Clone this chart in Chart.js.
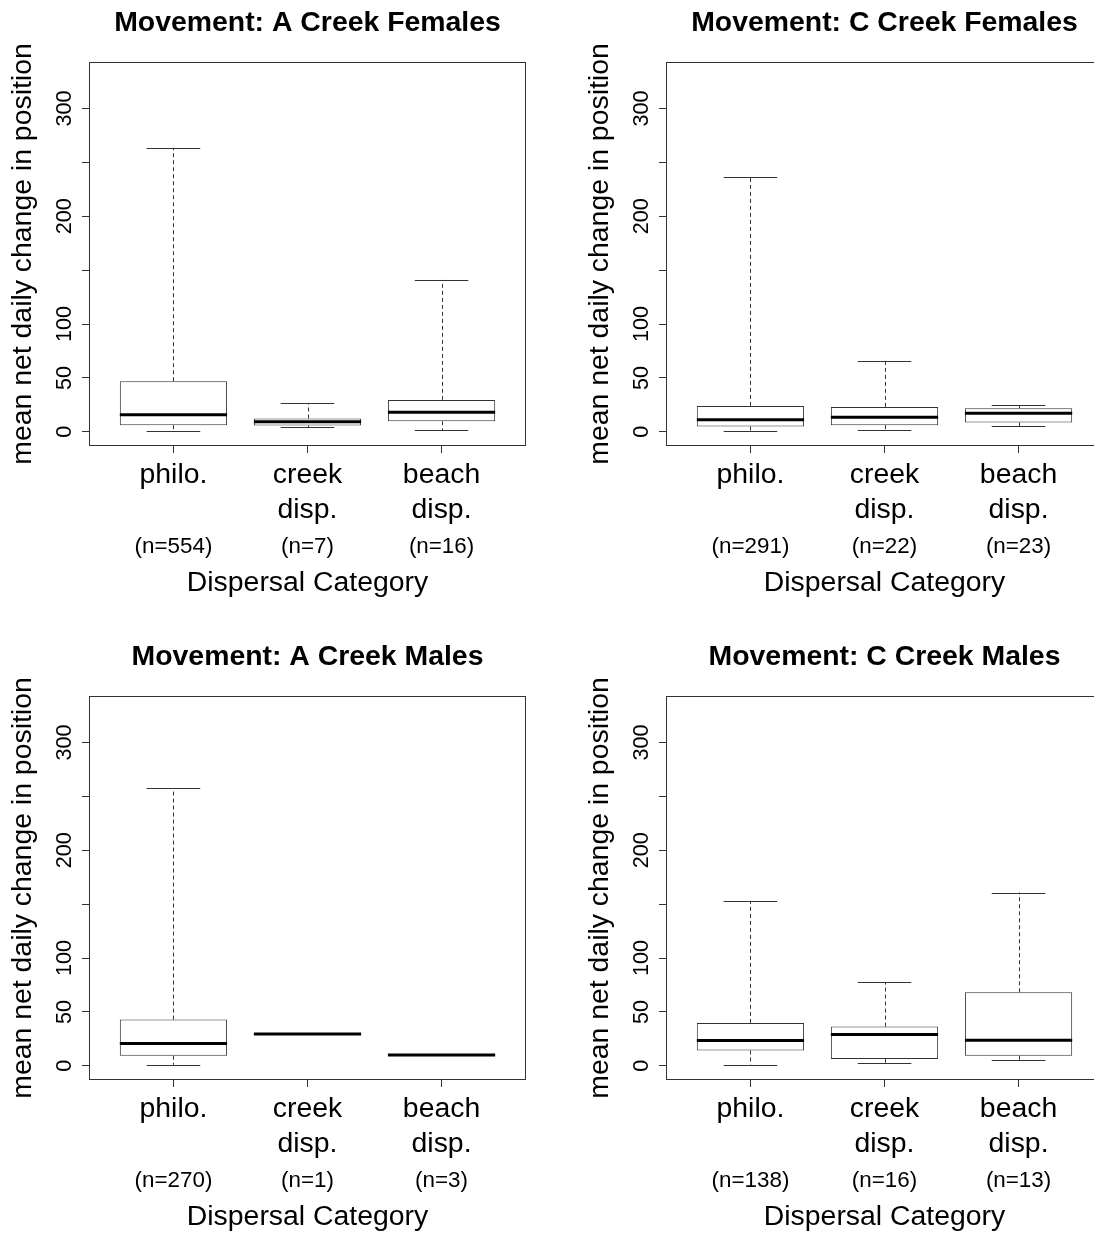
<!DOCTYPE html>
<html>
<head>
<meta charset="utf-8">
<script src="https://cdn.jsdelivr.net/npm/chart.js@4.4.1/dist/chart.umd.min.js"></script>
<style>
  html, body { margin: 0; padding: 0; background: #fff; overflow: hidden; }
  body { width: 1094px; height: 1237px; position: relative; }
  .panel { position: absolute; width: 577px; height: 634px; }
</style>
</head>
<body>
<div class="panel" style="left:0;top:0"><canvas id="c0" width="577" height="634"></canvas></div>
<div class="panel" style="left:577px;top:0"><canvas id="c1" width="577" height="634"></canvas></div>
<div class="panel" style="left:0;top:634px"><canvas id="c2" width="577" height="634"></canvas></div>
<div class="panel" style="left:577px;top:634px"><canvas id="c3" width="577" height="634"></canvas></div>
<script>
// groups along the x axis
const categories = [['philo.'], ['creek', 'disp.'], ['beach', 'disp.']];
const positions = [1, 2, 3];

const panelTitles = [
    'Movement: A Creek Females',
    'Movement: C Creek Females',
    'Movement: A Creek Males',
    'Movement: C Creek Males'
];

// per group: [lower whisker, Q1, median, Q3, upper whisker]
const aCreekFemales = [[0.3, 6.1, 15.7, 46.9, 263.5], [4.3, 5.8, 9.2, 12.3, 26.8], [1.2, 9.8, 18.1, 29.6, 141]];
const cCreekFemales = [[0.9, 4.9, 11.1, 24.0, 236.2], [1.2, 6.1, 13.5, 23.1, 65.4], [4.9, 8.6, 17.2, 21.9, 24.6]];
const aCreekMales = [[0.9, 9.3, 20.6, 42.9, 257.4], [29.6, 29.6, 29.6, 29.6, 29.6], [9.9, 9.9, 9.9, 9.9, 9.9]];
const cCreekMales = [[0.9, 14.2, 23.4, 39.8, 153.1], [2.8, 6.2, 29.0, 36.4, 77.8], [4.9, 9.3, 23.8, 68.2, 160.8]];

// sample sizes
const nACreekFemales = [554, 7, 16];
const nCCreekFemales = [291, 22, 23];
const nACreekMales = [270, 1, 3];
const nCCreekMales = [138, 16, 13];

const yTickValues = [0, 50, 100, 150, 200, 250, 300];
const yTickLabels = ['0', '50', '100', '', '200', '', '300'];
const yRange = [-13.2, 343.2];
const xRange = [0.37, 3.63];

Chart.defaults.font.family = '"Liberation Sans", Arial, sans-serif';
Chart.defaults.color = '#000';

const LINE = '#333';

// whiskers, staples and medians drawn through the chart's scales
function makeBoxPlugin(stats) {
    return {
        id: 'boxWhiskers',
        afterDatasetsDraw(chart) {
            const ctx = chart.ctx;
            const xs = chart.scales.x;
            const ys = chart.scales.y;
            ctx.save();
            stats.forEach((s, i) => {
                const cx = xs.getPixelForValue(positions[i]);
                const halfBox = xs.getPixelForValue(positions[i] + 0.4) - cx;
                const halfStaple = halfBox / 2;
                const lo = ys.getPixelForValue(s[0]);
                const q1 = ys.getPixelForValue(s[1]);
                const med = ys.getPixelForValue(s[2]);
                const q3 = ys.getPixelForValue(s[3]);
                const hi = ys.getPixelForValue(s[4]);
                const px = Math.round(cx) + 0.5;

                ctx.strokeStyle = LINE;
                ctx.lineWidth = 1;
                ctx.setLineDash([4, 3]);
                ctx.beginPath();
                ctx.moveTo(px, q3); ctx.lineTo(px, hi);
                ctx.moveTo(px, q1); ctx.lineTo(px, lo);
                ctx.stroke();

                ctx.setLineDash([]);
                ctx.beginPath();
                ctx.moveTo(cx - halfStaple, Math.round(hi) + 0.5); ctx.lineTo(cx + halfStaple, Math.round(hi) + 0.5);
                ctx.moveTo(cx - halfStaple, Math.round(lo) + 0.5); ctx.lineTo(cx + halfStaple, Math.round(lo) + 0.5);
                ctx.stroke();

                ctx.strokeStyle = '#000';
                ctx.lineWidth = 3;
                ctx.beginPath();
                ctx.moveTo(cx - halfBox, med); ctx.lineTo(cx + halfBox, med);
                ctx.stroke();
            });
            ctx.restore();
        }
    };
}

const framePlugin = {
    id: 'frame',
    afterDraw(chart) {
        const a = chart.chartArea;
        const ctx = chart.ctx;
        ctx.save();
        ctx.strokeStyle = LINE;
        ctx.lineWidth = 1;
        ctx.strokeRect(Math.round(a.left) + 0.5, Math.round(a.top) + 0.5,
                       Math.round(a.right - a.left) - 1, Math.round(a.bottom - a.top) - 1);
        ctx.restore();
    }
};

function makePanel(canvasId, title, stats, ns) {
    const ctx = document.getElementById(canvasId).getContext('2d');
    return new Chart(ctx, {
        type: 'bar',
        data: {
            datasets: [{
                data: stats.map((s, i) => ({ x: positions[i], y: [s[1], s[3]] })),
                backgroundColor: '#fff',
                borderColor: LINE,
                borderWidth: 1,
                borderSkipped: false,
                categoryPercentage: 1,
                barPercentage: 0.8
            }]
        },
        options: {
            responsive: false,
            devicePixelRatio: 1,
            animation: false,
            events: [],
            layout: { padding: { left: 0, right: 51, top: 0, bottom: 33.5 } },
            scales: {
                x: {
                    type: 'linear',
                    offset: false,
                    min: xRange[0],
                    max: xRange[1],
                    weight: 0,
                    afterBuildTicks: (s) => { s.ticks = positions.map(v => ({ value: v })); },
                    grid: { display: true, offset: false, drawOnChartArea: false, drawTicks: true, tickLength: 7, tickWidth: 1, tickColor: LINE, color: LINE },
                    border: { display: false },
                    ticks: {
                        autoSkip: false,
                        maxRotation: 0,
                        padding: 5.6,
                        font: { size: 28.4 },
                        callback: (v, i) => categories[i]
                    },
                    afterFit: (s) => { s.height = 80.8; }
                },
                x2: {
                    type: 'linear',
                    position: 'bottom',
                    offset: false,
                    min: xRange[0],
                    max: xRange[1],
                    weight: 1,
                    afterBuildTicks: (s) => { s.ticks = positions.map(v => ({ value: v })); },
                    grid: { offset: false, display: false, drawTicks: false },
                    border: { display: false },
                    ticks: {
                        autoSkip: false,
                        maxRotation: 0,
                        padding: 7,
                        font: { size: 22.4 },
                        callback: (v, i) => '(n=' + ns[i] + ')'
                    },
                    title: {
                        display: true,
                        text: 'Dispersal Category',
                        font: { size: 28.4 },
                        padding: { top: 0, bottom: 0 }
                    },
                    afterFit: (s) => { s.height = 73.7; }
                },
                y: {
                    type: 'linear',
                    min: yRange[0],
                    max: yRange[1],
                    afterBuildTicks: (s) => { s.ticks = yTickValues.map(v => ({ value: v })); },
                    grid: { drawOnChartArea: false, tickLength: 7, tickColor: LINE, color: LINE },
                    border: { display: false },
                    ticks: {
                        autoSkip: false,
                        minRotation: 90,
                        maxRotation: 90,
                        crossAlign: 'center',
                        padding: -1,
                        font: { size: 21.6 },
                        callback: (v, i) => yTickLabels[i]
                    },
                    title: {
                        display: true,
                        text: 'mean net daily change in position',
                        font: { size: 28.4 },
                        padding: { top: 6.4, bottom: 0 }
                    },
                    afterFit: (s) => { s.width = 89; }
                }
            },
            plugins: {
                legend: { display: false },
                tooltip: { enabled: false },
                title: {
                    display: true,
                    text: title,
                    fullSize: false,
                    font: { size: 28.4, weight: 'bold' },
                    color: '#000',
                    padding: { top: 6, bottom: 21.9 }
                }
            }
        },
        plugins: [makeBoxPlugin(stats), framePlugin]
    });
}

makePanel('c0', panelTitles[0], aCreekFemales, nACreekFemales);
makePanel('c1', panelTitles[1], cCreekFemales, nCCreekFemales);
makePanel('c2', panelTitles[2], aCreekMales, nACreekMales);
makePanel('c3', panelTitles[3], cCreekMales, nCCreekMales);
</script>
</body>
</html>
